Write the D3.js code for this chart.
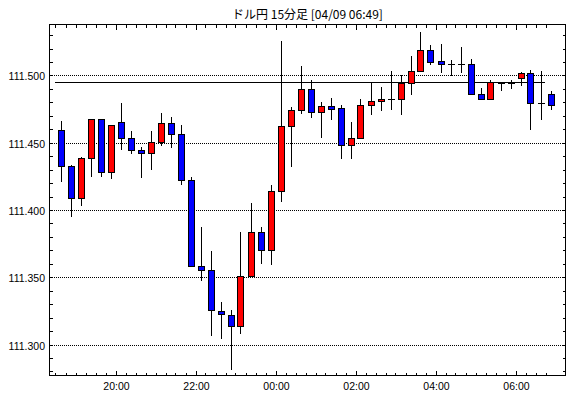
<!DOCTYPE html>
<html><head><meta charset="utf-8">
<script src="https://cdn.jsdelivr.net/npm/d3@7/dist/d3.min.js"></script>
<style>
html,body{margin:0;padding:0;background:#fff;}
svg{display:block;}
</style></head>
<body>
<svg id="chart" width="570" height="398"></svg>
<script>
const title = "ドル円 15分足 [04/09 06:49]";
const times = ["04/08 18:30","04/08 18:45","04/08 19:00","04/08 19:15","04/08 19:30","04/08 19:45",
"04/08 20:00","04/08 20:15","04/08 20:30","04/08 20:45","04/08 21:00","04/08 21:15","04/08 21:30","04/08 21:45",
"04/08 22:00","04/08 22:15","04/08 22:30","04/08 22:45","04/08 23:00","04/08 23:15","04/08 23:30","04/08 23:45",
"04/09 00:00","04/09 00:15","04/09 00:30","04/09 00:45","04/09 01:00","04/09 01:15","04/09 01:30","04/09 01:45",
"04/09 02:00","04/09 02:15","04/09 02:30","04/09 02:45","04/09 03:00","04/09 03:15","04/09 03:30","04/09 03:45",
"04/09 04:00","04/09 04:15","04/09 04:30","04/09 04:45","04/09 05:00","04/09 05:15","04/09 05:30","04/09 05:45",
"04/09 06:00","04/09 06:15","04/09 06:30","04/09 06:45"];
const open  = [111.4597,111.4329,111.4089,111.4389,111.4678,111.4285,111.4656,111.4537,111.4448,111.4426,
111.4507,111.4649,111.4567,111.4225,111.3587,111.3557,111.3251,111.3223,111.3139,111.3511,
111.3840,111.3704,111.4138,111.4628,111.4740,111.4896,111.4725,111.4770,111.4755,111.4480,
111.4532,111.4784,111.4807,111.4823,111.4827,111.4941,111.5030,111.5186,111.5104,111.5089,
111.5089,111.5089,111.4859,111.4822,111.4941,111.4941,111.4985,111.5015,111.4799,111.4866];
const high  = [111.4666,111.4339,111.4399,111.4678,111.4686,111.4634,111.4800,111.4592,111.4478,111.4592,
111.4725,111.4696,111.4636,111.4255,111.3879,111.3700,111.3323,111.3263,111.3843,111.4058,
111.3880,111.4192,111.5263,111.4772,111.5077,111.4973,111.4809,111.4839,111.4787,111.4661,
111.4832,111.4958,111.4921,111.5040,111.5010,111.5151,111.5330,111.5233,111.5240,111.5121,
111.5218,111.5129,111.4913,111.4973,111.4958,111.4973,111.5030,111.5045,111.5040,111.4889];
const low   = [111.4215,111.3955,111.4037,111.4252,111.4252,111.4238,111.4453,111.4423,111.4245,111.4304,
111.4485,111.4468,111.4193,111.3587,111.3483,111.3072,111.3050,111.2820,111.3087,111.3511,
111.3608,111.3600,111.4068,111.4329,111.4722,111.4693,111.4544,111.4678,111.4388,111.4388,
111.4532,111.4715,111.4742,111.4752,111.4715,111.4864,111.5030,111.5087,111.5025,111.5000,
111.5025,111.4866,111.4822,111.4822,111.4893,111.4908,111.4926,111.4604,111.4678,111.4752];
const close = [111.4327,111.4089,111.4389,111.4678,111.4285,111.4634,111.4537,111.4448,111.4426,111.4507,
111.4649,111.4567,111.4225,111.3587,111.3554,111.3255,111.3228,111.3139,111.3513,111.3840,
111.3704,111.4138,111.4628,111.4740,111.4896,111.4725,111.4770,111.4752,111.4480,111.4532,
111.4784,111.4807,111.4822,111.4827,111.4945,111.5030,111.5186,111.5102,111.5089,111.5089,
111.5089,111.4866,111.4822,111.4948,111.4941,111.4941,111.5015,111.4799,111.4799,111.4782];
const yTickLabels = ["111.300","111.350","111.400","111.450","111.500"];
const xTickLabels = ["20:00","22:00","00:00","02:00","04:00","06:00"];
const refLine = 111.495;

const parse = d3.timeParse("%Y/%m/%d %H:%M");
const tDates = times.map(t => parse("2019/" + t));
const data = tDates.map((t,i)=>({t, o:open[i], h:high[i], l:low[i], c:close[i]}));

const svg = d3.select("#chart");
const L = 49.5, R = 565.5, T = 24.5, B = 375.5;

const x = d3.scaleTime()
  .domain([parse("2019/04/08 18:21"), parse("2019/04/09 07:15")])
  .range([L, R]);
const y = d3.scaleLinear().domain([111.2770, 111.5379]).range([B, T]);
const half = 7.5 * 60 * 1000;
const cx = d => Math.round(x(new Date(+d.t + half))) + 0.5;
const py = v => Math.round(y(v)) + 0.5;

// title
svg.append("text").attr("x", (L+R)/2).attr("y", 19).attr("text-anchor","middle")
  .attr("font-family","'Noto Sans CJK JP', sans-serif").attr("font-size", 12).attr("fill","#000")
  .text(title);

// grid
const yGrid = yTickLabels.map(Number);
svg.append("g").selectAll("line").data(yGrid).join("line")
  .attr("x1", L).attr("x2", R).attr("y1", d=>py(d)).attr("y2", d=>py(d))
  .attr("stroke","#000").attr("stroke-width",1).attr("stroke-dasharray","1,1")
  .attr("shape-rendering","crispEdges");

// y minor ticks
const yMinor = d3.range(0, 26).map(i => +(111.28 + i*0.01).toFixed(2)).filter(v => v <= 111.5379);
const tickG = svg.append("g").attr("stroke","#000").attr("shape-rendering","crispEdges");
yMinor.forEach(v=>{
  const len = 3;
  tickG.append("line").attr("x1",L).attr("x2",L+len).attr("y1",py(v)).attr("y2",py(v));
  tickG.append("line").attr("x1",R-len).attr("x2",R).attr("y1",py(v)).attr("y2",py(v));
});

// x ticks at each candle
data.forEach(d=>{
  const xx = Math.round(x(d.t)) + 0.5;
  const major = d.t.getMinutes()===0 && d.t.getHours()%2===0;
  const len = major ? 5 : 3;
  tickG.append("line").attr("x1",xx).attr("x2",xx).attr("y1",B).attr("y2",B-len);
  tickG.append("line").attr("x1",xx).attr("x2",xx).attr("y1",T).attr("y2",T+len);
});

// y labels
svg.append("g").selectAll("text").data(yTickLabels).join("text")
  .attr("x", 45).attr("y", d=>py(+d)+4).attr("text-anchor","end")
  .attr("font-family","'Liberation Sans', Arial, sans-serif").attr("font-size", 10.5).attr("fill","#000")
  .text(d=>d);

// x labels
const xLabelDates = data.filter(d => d.t.getMinutes()===0 && d.t.getHours()%2===0);
svg.append("g").selectAll("text").data(xLabelDates).join("text")
  .attr("x", d=>Math.round(x(d.t))+0.5).attr("y", 390).attr("text-anchor","middle")
  .attr("font-family","'Liberation Sans', Arial, sans-serif").attr("font-size", 10.5).attr("fill","#000")
  .text((d,i)=>xTickLabels[i]);

// reference line
svg.append("line").attr("x1", 55).attr("x2", 545).attr("y1", py(refLine)).attr("y2", py(refLine))
  .attr("stroke","#000").attr("stroke-width",1).attr("shape-rendering","crispEdges");

// candles
const cg = svg.append("g").attr("shape-rendering","crispEdges");
data.forEach(d=>{
  const c = cx(d);
  cg.append("line").attr("x1",c).attr("x2",c).attr("y1",py(d.h)).attr("y2",py(d.l))
    .attr("stroke","#000").attr("stroke-width",1);
  const y1 = Math.round(y(Math.max(d.o,d.c))), y2 = Math.round(y(Math.min(d.o,d.c)));
  if (y2 - y1 < 1) {
    cg.append("line").attr("x1",c-3.5).attr("x2",c+3.5).attr("y1",y1+0.5).attr("y2",y1+0.5)
      .attr("stroke","#000").attr("stroke-width",1);
  } else {
    cg.append("rect").attr("x",c-3).attr("width",6).attr("y",y1+0.5).attr("height",y2-y1)
      .attr("fill", d.c>=d.o ? "#ff0000" : "#0000ff").attr("stroke","#000").attr("stroke-width",1);
  }
});

// frame
svg.append("rect").attr("x",L).attr("y",T).attr("width",R-L).attr("height",B-T)
  .attr("fill","none").attr("stroke","#000").attr("stroke-width",1).attr("shape-rendering","crispEdges");
</script>
</body></html>
